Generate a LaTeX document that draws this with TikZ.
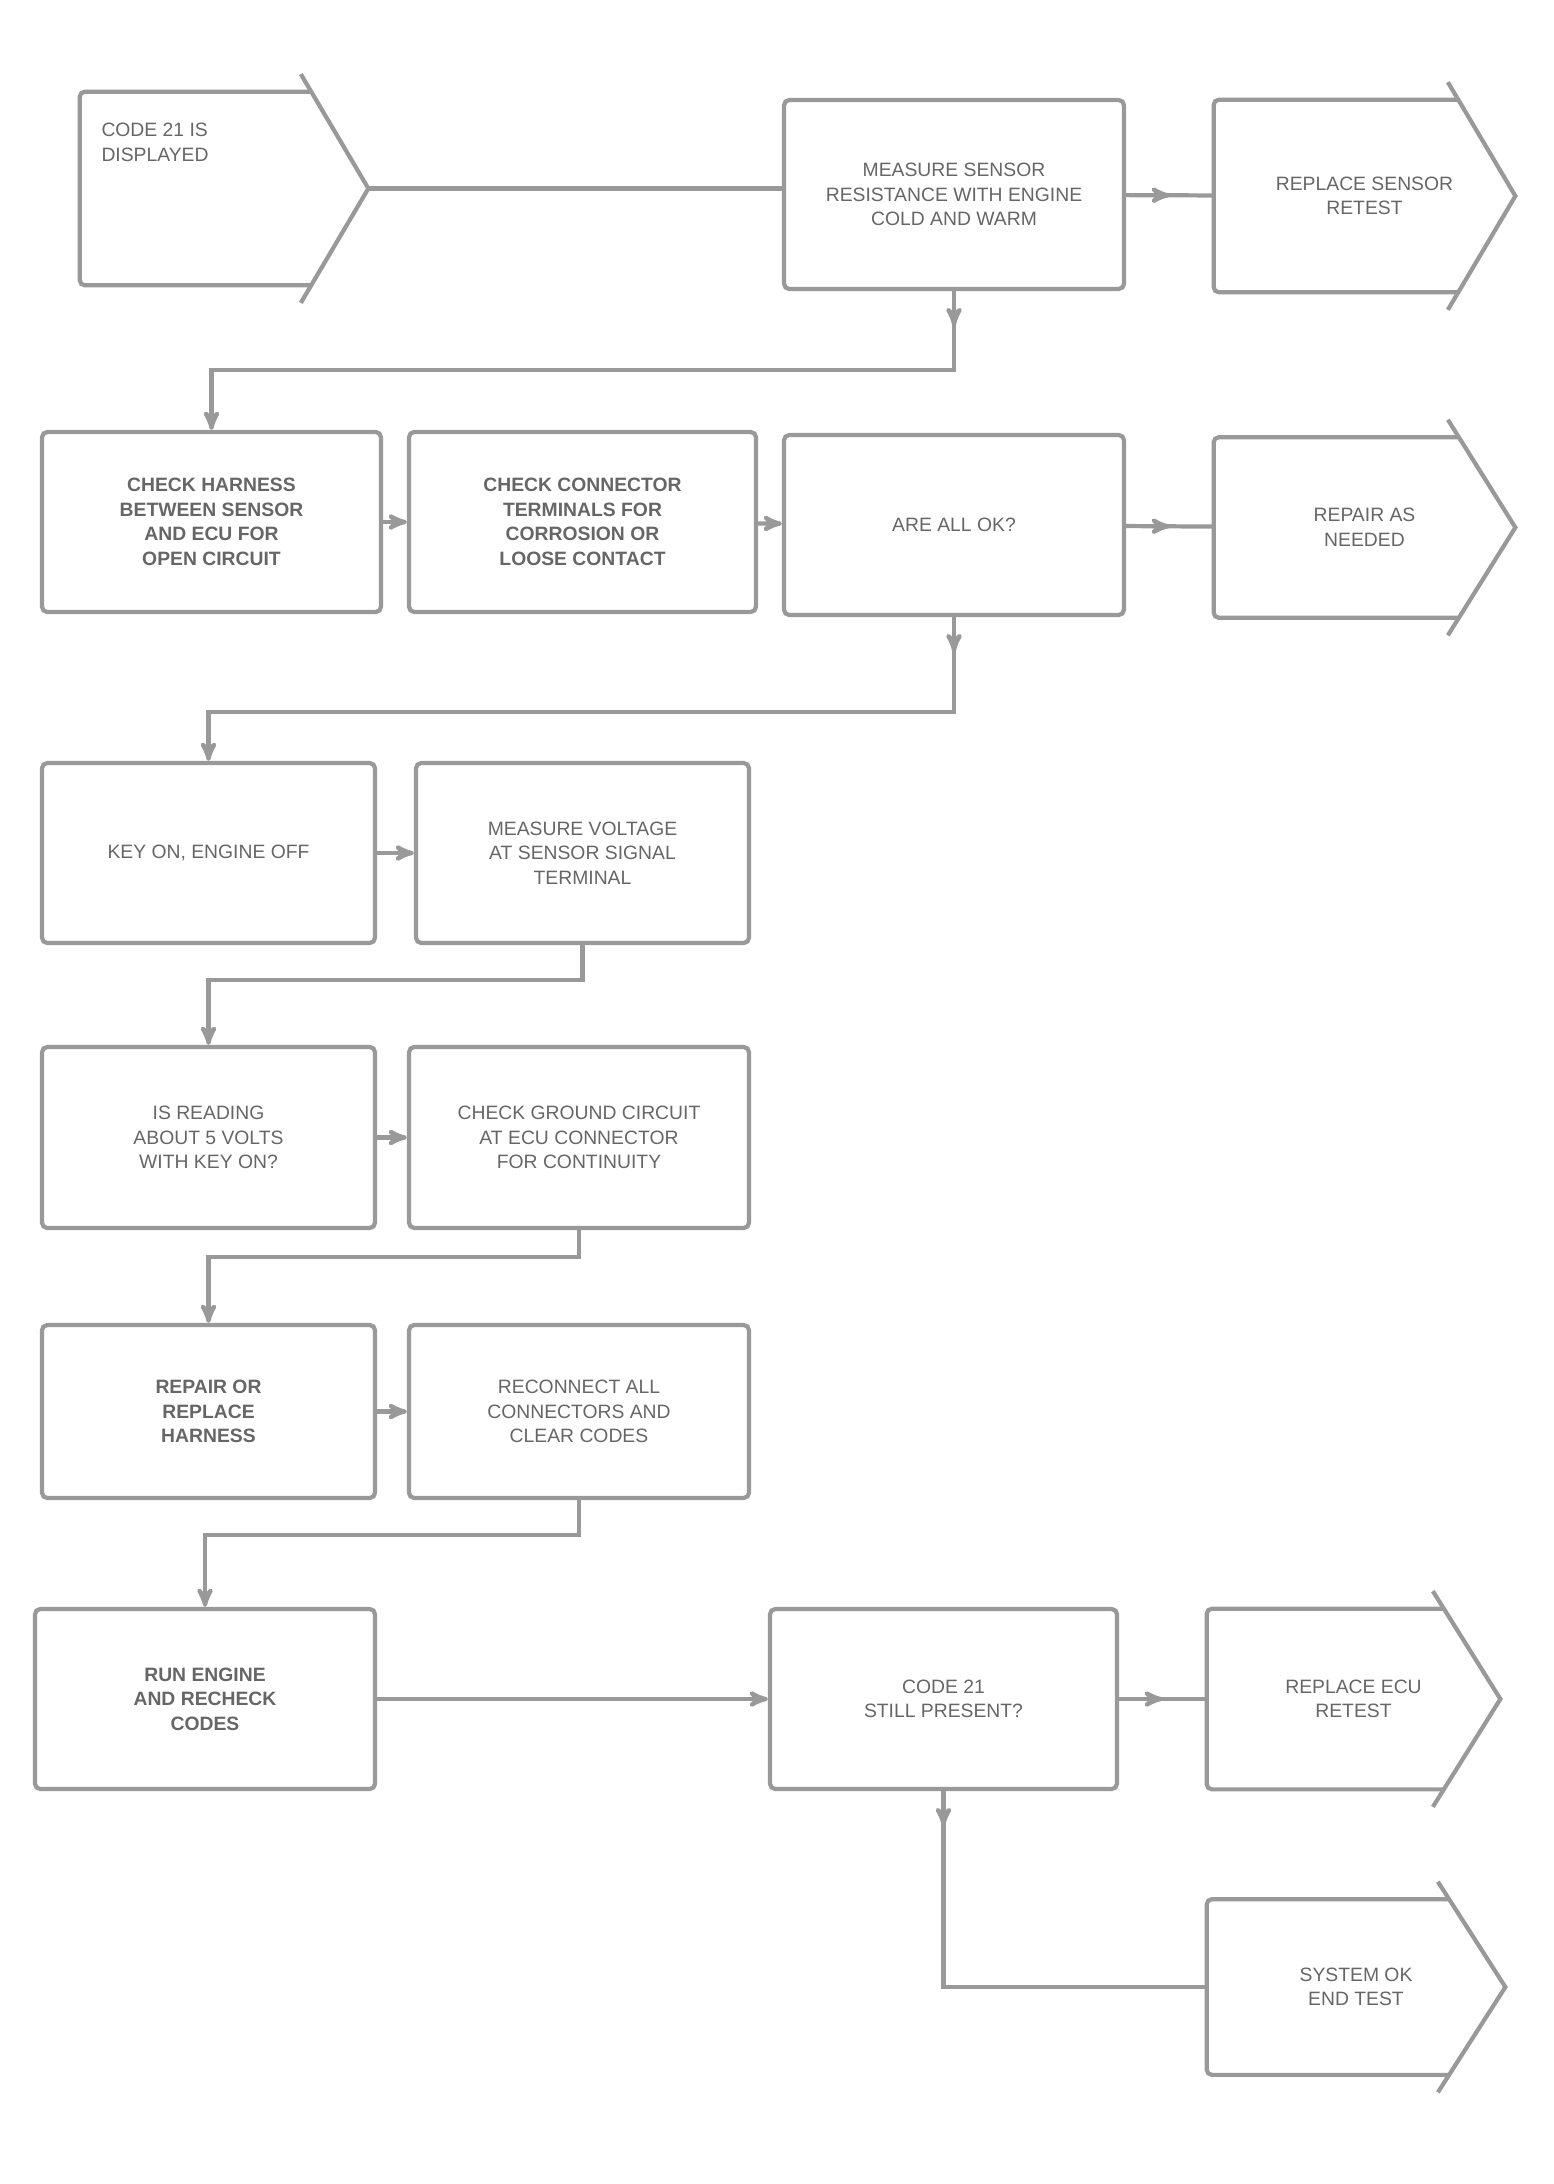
\documentclass[tikz,border=0pt]{standalone}
\usepackage{fontspec}
\setmainfont{Liberation Sans}
\usetikzlibrary{arrows,shapes,decorations.markings}

\tikzset{
  box/.style={shape=rectangle,rounded corners=3pt,draw=black!40,line width=2.4pt,
    align=center,text=black!60,font=\fontsize{11}{14}\selectfont},
  offpage/.style={shape=rectangle,draw=none,align=center,text=black!60,
    font=\fontsize{11}{14}\selectfont},
  flow/.style={draw=black!40,line width=2.4pt},
  flowmark/.style={postaction={decorate},decoration={markings,
    mark=at position #1 with {\arrow{stealth'}}}}
}

\begin{document}
\begin{tikzpicture}[>=stealth',auto]
                \useasboundingbox (0, 0) rectangle (31.06, -43.68);
                % row 1
                \node[offpage,minimum width=5.76cm,minimum height=3.86cm,align=left](start)at(4.48, -3.77){\parbox[t][3.2cm][t]{4.9cm}{\vspace*{0.3cm}CODE 21 IS\\DISPLAYED}};
                \node[box,minimum width=6.8cm,minimum height=3.78cm](B1)at(19.08, -3.89){MEASURE SENSOR\\RESISTANCE WITH ENGINE\\COLD AND WARM};
                \node[offpage,minimum width=6.02cm,minimum height=3.84cm](end1)at(27.29, -3.92){REPLACE SENSOR\\RETEST};
                % row 2
                \node[box,minimum width=6.78cm,minimum height=3.6cm,font=\bfseries\fontsize{11}{14}\selectfont](C1)at(4.23, -10.44){CHECK HARNESS\\BETWEEN SENSOR\\AND ECU FOR\\OPEN CIRCUIT};
                \node[box,minimum width=6.94cm,minimum height=3.6cm,font=\bfseries\fontsize{11}{14}\selectfont](C2)at(11.65, -10.44){CHECK CONNECTOR\\TERMINALS FOR\\CORROSION OR\\LOOSE CONTACT};
                \node[box,minimum width=6.8cm,minimum height=3.6cm](C3)at(19.08, -10.5){ARE ALL OK?};
                \node[offpage,minimum width=6.02cm,minimum height=3.6cm](end2)at(27.29, -10.55){REPAIR AS\\NEEDED};
                % row 3
                \node[box,minimum width=6.66cm,minimum height=3.6cm](D1)at(4.17, -17.06){KEY ON, ENGINE OFF};
                \node[box,minimum width=6.66cm,minimum height=3.6cm](D2)at(11.65, -17.06){MEASURE VOLTAGE\\AT SENSOR SIGNAL\\TERMINAL};
                % row 4
                \node[box,minimum width=6.66cm,minimum height=3.62cm](E1)at(4.17, -22.75){IS READING\\ABOUT 5 VOLTS\\WITH KEY ON?};
                \node[box,minimum width=6.8cm,minimum height=3.62cm](E2)at(11.58, -22.75){CHECK GROUND CIRCUIT\\AT ECU CONNECTOR\\FOR CONTINUITY};
                % row 5
                \node[box,minimum width=6.66cm,minimum height=3.46cm,font=\bfseries\fontsize{11}{14}\selectfont](F1)at(4.17, -28.23){REPAIR OR\\REPLACE\\HARNESS};
                \node[box,minimum width=6.8cm,minimum height=3.46cm](F2)at(11.58, -28.23){RECONNECT ALL\\CONNECTORS AND\\CLEAR CODES};
                % row 6
                \node[box,minimum width=6.8cm,minimum height=3.6cm,font=\bfseries\fontsize{11}{14}\selectfont](G1)at(4.1, -33.98){RUN ENGINE\\AND RECHECK\\CODES};
                \node[box,minimum width=6.94cm,minimum height=3.6cm](H1)at(18.87, -33.98){CODE 21\\STILL PRESENT?};
                \node[offpage,minimum width=5.86cm,minimum height=3.6cm](end3)at(27.07, -33.98){REPLACE ECU\\RETEST};
                \node[offpage,minimum width=5.96cm,minimum height=3.5cm](end4)at(27.12, -39.74){SYSTEM OK\\END TEST};
                % off-page connectors
                \foreach \n in {start,end1,end2,end3,end4}{
                    \draw[flow,rounded corners=3pt] ([xshift=-1.15cm]\n.north east) -- (\n.north west) -- (\n.south west) -- ([xshift=-1.15cm]\n.south east);
                    \draw[flow] ([xshift=-1.35cm,yshift=0.35cm]\n.north east) -- (\n.east) -- ([xshift=-1.35cm,yshift=-0.35cm]\n.south east);
                }
                % connectors
                \draw[flow] (start.east) -- (start.east -| B1.west);
                \draw[flow,flowmark=0.5] (B1) -- (end1);
                \draw[flow,flowmark=0.7cm,->] (B1.south) -- ++(0, -1.57) -| (C1.north);
                \draw[flow,->] (C1) -- (C2);
                \draw[flow,->] (C2) -- (C3);
                \draw[flow,flowmark=0.5] (C3) -- (end2);
                \draw[flow,flowmark=0.7cm,->] (C3.south) -- ++(0, -1.9) -| (D1.north);
                \draw[flow,->] (D1) -- (D2);
                \draw[flow,->] (D2.south) -- ++(0, -0.7) -| (E1.north);
                \draw[flow,->] (E1) -- (E2);
                \draw[flow,->] (E2.south) -- ++(0, -0.54) -| (F1.north);
                \draw[flow,->] (F1) -- (F2);
                \draw[flow,->] (F2.south) -- ++(0, -0.7) -| (G1.north);
                \draw[flow,->] (G1) -- (H1);
                \draw[flow,flowmark=0.5] (H1) -- (end3);
                \draw[flow,flowmark=0.7cm] (H1.south) |- (end4.west);
            \end{tikzpicture}
\end{document}
